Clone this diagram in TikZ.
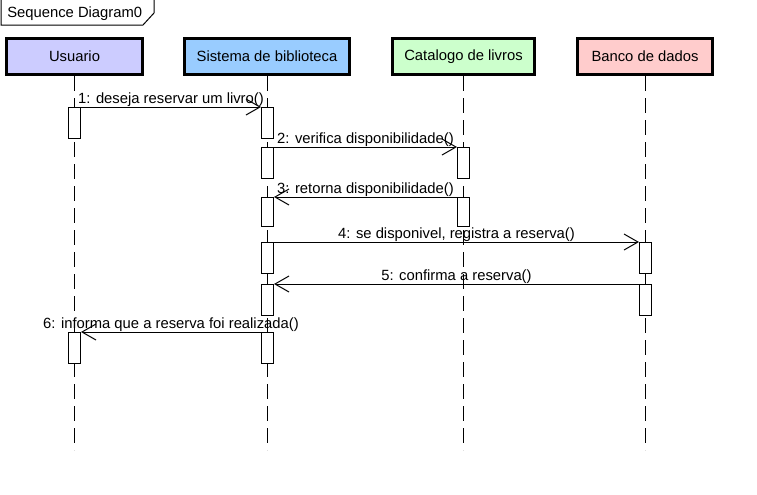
\documentclass[tikz,border=0pt]{standalone}
\usepackage{fontspec}
\setmainfont{Liberation Sans}
\usetikzlibrary{arrows.meta}

\definecolor{usuariofill}{HTML}{CCCCFF}
\definecolor{sistemafill}{HTML}{99CCFF}
\definecolor{catalogofill}{HTML}{CCFFCC}
\definecolor{bancofill}{HTML}{FFCCCC}

\begin{document}
\begin{tikzpicture}[x=0.75pt,y=-0.75pt,
  font=\fontsize{11.1}{13}\selectfont,
  obj/.style={draw,line width=2.25pt,minimum height=27pt,inner sep=0pt},
  act/.style={draw,fill=white,line width=0.75pt,minimum width=9pt,minimum height=23.25pt,anchor=north,inner sep=0pt},
  life/.style={line width=0.75pt,dash pattern=on 11.25pt off 5.25pt},
  msg/.style={line width=0.75pt,-{Straight Barb[length=10.5pt,width=12pt]}},
  lbl/.style={anchor=base,inner sep=0pt,yshift=3pt}]

\useasboundingbox (0,0) rectangle (757,494);

%% frame label
\draw[line width=0.75pt] (1,0) -- (1,25) -- (143,25) -- (154,13) -- (154,0);
\node[anchor=base west,inner sep=0pt] (frame) at (7,17) {Sequence Diagram0};

%% objects
\node[obj,fill=usuariofill,minimum width=102pt] (usuario) at (74.5,56.5) {Usuario};
\node[obj,fill=sistemafill,minimum width=124pt] (sistema) at (267,56.5) {Sistema de biblioteca};
\node[obj,fill=catalogofill,minimum width=106.5pt] (catalogo) at (463.5,56.5) {Catalogo de livros};
\node[obj,fill=bancofill,minimum width=101.25pt] (banco) at (645,56.5) {Banco de dados};

%% lifelines
\coordinate (uend) at (74.5,450);
\coordinate (send) at (267,450);
\coordinate (cend) at (463.5,450);
\coordinate (bend) at (645,450);
\draw[life] (usuario.south) -- (uend);
\draw[life] (sistema.south) -- (send);
\draw[life] (catalogo.south) -- (cend);
\draw[life] (banco.south) -- (bend);

%% activations
\node[act] (u1) at (74.5,107) {};
\node[act] (u2) at (74.5,332) {};
\node[act] (s1) at (267.5,107) {};
\node[act] (s2) at (267.5,147) {};
\node[act,minimum height=21.75pt] (s3) at (267.5,197) {};
\node[act] (s4) at (267.5,242) {};
\node[act] (s5) at (267.5,284) {};
\node[act] (s6) at (267.5,332) {};
\node[act] (c1) at (463.5,147) {};
\node[act,minimum height=21.75pt] (c2) at (463.5,197) {};
\node[act] (b1) at (645.5,242) {};
\node[act] (b2) at (645.5,284) {};

%% messages
\draw[msg] (u1.north east) -- (s1.north west) node[lbl,midway] (m1) {1: deseja reservar um livro()};
\draw[msg] (s2.north east) -- (c1.north west) node[lbl,midway] (m2) {2: verifica disponibilidade()};
\draw[msg] (c2.north west) -- (s3.north east) node[lbl,midway] (m3) {3: retorna disponibilidade()};
\draw[msg] (s4.north east) -- (b1.north west) node[lbl,midway] (m4) {4: se disponivel, registra a reserva()};
\draw[msg] (b2.north west) -- (s5.north east) node[lbl,midway] (m5) {5: confirma a reserva()};
\draw[msg] (s6.north west) -- (u2.north east) node[lbl,midway] (m6) {6: informa que a reserva foi realizada()};

\end{tikzpicture}
\end{document}
